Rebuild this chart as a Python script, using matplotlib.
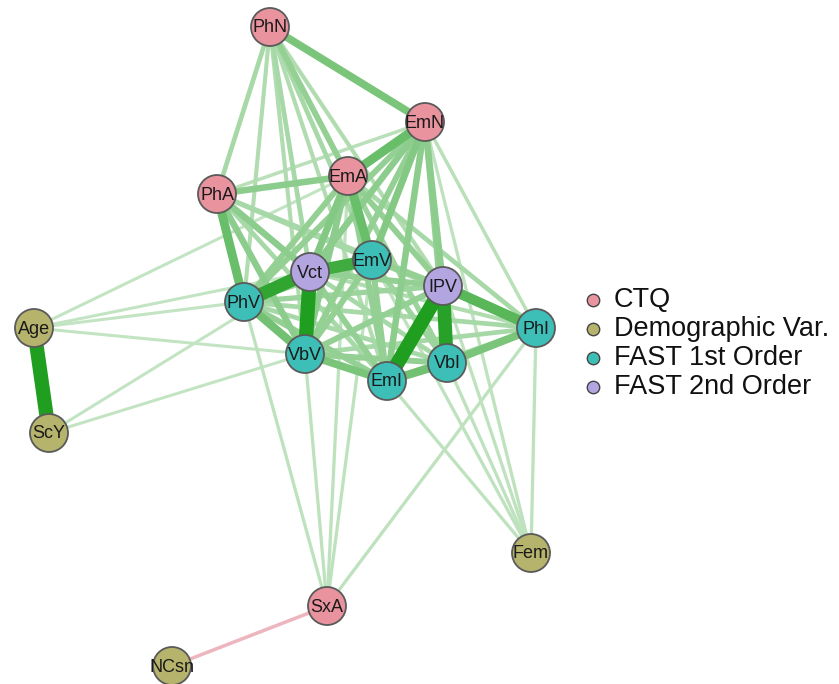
import numpy as np
import matplotlib.pyplot as plt
from matplotlib.patches import Circle

plt.rcParams['font.family'] = ['Liberation Sans', 'DejaVu Sans']

# node layout (pixel-like coordinates, y grows downward)
nodes = ["PhN", "EmN", "EmA", "PhA", "Vct", "EmV", "IPV", "PhV", "PhI",
         "VbV", "EmI", "VbI", "Age", "ScY", "Fem", "SxA", "NCsn"]
node_x = [270, 425, 348, 217, 310, 372, 443, 244, 536, 305, 387, 447, 34, 49, 531, 327, 172]
node_y = [27, 122, 176, 194, 272, 260, 286, 302, 328, 354, 381, 363, 328, 433, 553, 606, 666]
node_group = ["CTQ", "CTQ", "CTQ", "CTQ", "FAST 2nd Order", "FAST 1st Order",
              "FAST 2nd Order", "FAST 1st Order", "FAST 1st Order", "FAST 1st Order",
              "FAST 1st Order", "FAST 1st Order", "Demographic Var.", "Demographic Var.",
              "Demographic Var.", "CTQ", "Demographic Var."]

groups = ["CTQ", "Demographic Var.", "FAST 1st Order", "FAST 2nd Order"]
group_colors = ["#E9939F", "#B5B36C", "#3DBFB8", "#B3A6E0"]

# partial correlations (edge weights); negative edges drawn in red
edge_from = ["Age", "Vct", "IPV", "IPV", "Vct", "Vct",
             "IPV", "EmN", "PhN", "PhA", "EmA", "EmI", "PhV", "VbV", "VbI", "EmA",
             "EmN", "EmN", "EmN", "EmN", "EmN", "EmN", "EmN",
             "EmA", "EmA", "EmA", "EmA", "EmA", "EmA", "EmA",
             "PhA", "PhA", "PhA", "PhA", "PhA",
             "PhN", "PhN", "PhN", "PhN", "PhN", "PhN", "PhN", "PhN",
             "PhV", "PhV", "PhV", "PhV", "PhV",
             "Vct", "Vct", "Vct", "Vct",
             "EmV", "EmV", "EmV", "EmV", "EmV",
             "VbV", "VbV", "VbV", "EmI", "EmN", "EmN",
             "Age", "Age", "Age", "Age", "ScY", "ScY",
             "SxA", "SxA", "SxA", "SxA", "SxA",
             "Fem", "Fem", "Fem", "Fem", "Fem", "Fem",
             "SxA"]
edge_to = ["ScY", "VbV", "EmI", "VbI", "PhV", "EmV",
           "PhI", "EmA", "EmN", "PhV", "EmV", "VbI", "VbV", "EmI", "PhI", "Vct",
           "EmV", "Vct", "IPV", "VbI", "EmI", "PhV", "VbV",
           "PhA", "PhV", "VbV", "IPV", "EmI", "VbI", "PhI",
           "Vct", "VbV", "EmV", "IPV", "EmI",
           "PhA", "EmA", "Vct", "PhV", "VbV", "EmV", "IPV", "EmI",
           "EmV", "IPV", "EmI", "VbI", "PhI",
           "IPV", "EmI", "VbI", "PhI",
           "IPV", "VbV", "EmI", "VbI", "PhI",
           "IPV", "VbI", "PhI", "PhI", "PhI", "PhA",
           "EmA", "PhV", "Vct", "VbV", "Vct", "VbV",
           "PhV", "VbV", "EmA", "EmV", "PhI",
           "EmI", "VbI", "EmV", "IPV", "EmN", "PhI",
           "NCsn"]
edge_weight = [1.0, 1.0, 1.0, 0.95, 0.9, 0.8,
               0.65, 0.55, 0.45, 0.55, 0.55, 0.5, 0.5, 0.45, 0.45, 0.4,
               0.4, 0.35, 0.35, 0.3, 0.35, 0.3, 0.3,
               0.35, 0.3, 0.35, 0.3, 0.3, 0.25, 0.2,
               0.35, 0.35, 0.2, 0.2, 0.2,
               0.2, 0.3, 0.2, 0.15, 0.15, 0.2, 0.15, 0.15,
               0.25, 0.25, 0.3, 0.2, 0.2,
               0.3, 0.3, 0.2, 0.15,
               0.3, 0.3, 0.3, 0.25, 0.2,
               0.3, 0.3, 0.2, 0.25, 0.1, 0.1,
               0.06, 0.06, 0.06, 0.06, 0.06, 0.06,
               0.08, 0.08, 0.08, 0.08, 0.08,
               0.08, 0.08, 0.08, 0.08, 0.08, 0.08,
               -0.1]

pos = {n: (x, y) for n, x, y in zip(nodes, node_x, node_y)}
col = {g: c for g, c in zip(groups, group_colors)}

light_pos = np.array([208, 234, 208]) / 255
dark_pos = np.array([32, 158, 32]) / 255
light_neg = np.array([242, 202, 210]) / 255
dark_neg = np.array([200, 40, 60]) / 255

fig = plt.figure(figsize=(8.39, 6.84), dpi=100)
ax = fig.add_axes([0, 0, 1, 1])
ax.set_xlim(0, 839)
ax.set_ylim(684, 0)
ax.set_aspect('equal')
ax.axis('off')

order = np.argsort(np.abs(edge_weight))
for i in order:
    a, b, w = edge_from[i], edge_to[i], edge_weight[i]
    s = abs(w) ** 0.9
    if w >= 0:
        c = light_pos + (dark_pos - light_pos) * s
    else:
        c = light_neg + (dark_neg - light_neg) * s
    lw_px = 2.3 + 12.0 * abs(w)
    ax.plot([pos[a][0], pos[b][0]], [pos[a][1], pos[b][1]], '-',
            color=c, lw=lw_px * 0.72, solid_capstyle='butt', zorder=1)

for n, x, y, g in zip(nodes, node_x, node_y, node_group):
    ax.add_patch(Circle((x, y), 19, facecolor=col[g], edgecolor='#5a5a5a',
                        lw=1.3, zorder=3))
    ax.text(x, y + 1, n, ha='center', va='center', fontsize=13,
            color='#1a1a1a', zorder=4)

# legend
for k, (g, c) in enumerate(zip(groups, group_colors)):
    ly = 300 + 29 * k
    ax.scatter([593], [ly], s=80, color=c, edgecolor='#444444', lw=1.0, zorder=3)
    ax.text(614, ly, g, ha='left', va='center', fontsize=19.5, color='#111111')

fig.savefig("out.png", dpi=100)
